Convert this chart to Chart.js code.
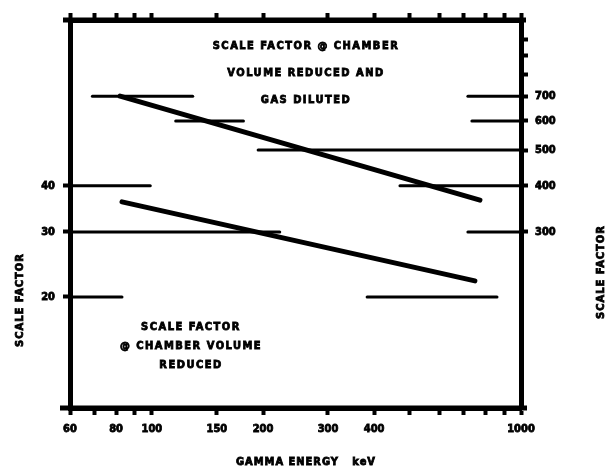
<!DOCTYPE html>
<html>
<head>
<meta charset="utf-8">
<script src="https://cdn.jsdelivr.net/npm/chart.js@4/dist/chart.umd.min.js"></script>
<style>
  html, body { margin: 0; padding: 0; background: #fff; }
  #wrap { width: 612px; height: 476px; }
</style>
</head>
<body>
<div id="wrap"><canvas id="chart" width="612" height="476"></canvas></div>
<script>
// gamma energy axis (keV)
const energyTicks = [60, 70, 80, 90, 100, 150, 200, 300, 400, 500, 600, 700, 800, 900, 1000];
const energyLabels = [60, 80, 100, 150, 200, 300, 400, 1000];
// left scale factor axis, right scale factor axis
const leftTicks = [20, 30, 40];
const rightTicks = [300, 400, 500, 600, 700, 800, 900, 1000];
const rightLabels = [300, 400, 500, 600, 700];

// chamber volume reduced and gas diluted (right axis)
const dilutedEnergy = [82, 774];
const dilutedFactor = [700, 366];
// chamber volume reduced (left axis)
const reducedEnergy = [83, 750];
const reducedFactor = [36.2, 22.1];

// horizontal reading lines, in right-axis units, with energy spans
const guideLevels = [700, 600, 500, 400, 300, 200];
const guideSpans = [
  [[69, 129], [718, 1000]],
  [[116, 177], [736, 1000]],
  [[194, 1000]],
  [[60, 99], [470, 1000]],
  [[60, 222], [718, 1000]],
  [[60, 83], [383, 861]]
];

const ink = "#000";
const datasets = [];

guideLevels.forEach((lvl, i) => {
  guideSpans[i].forEach(span => {
    datasets.push({
      data: span.map(e => ({ x: e, y: lvl })),
      yAxisID: "y2",
      borderWidth: 3
    });
  });
});
datasets.push({
  data: dilutedEnergy.map((e, i) => ({ x: e, y: dilutedFactor[i] })),
  yAxisID: "y2",
  borderWidth: 5
});
datasets.push({
  data: reducedEnergy.map((e, i) => ({ x: e, y: reducedFactor[i] })),
  yAxisID: "y",
  borderWidth: 5
});
datasets.forEach(d => {
  d.showLine = true;
  d.pointRadius = 0;
  d.borderColor = ink;
  d.borderCapStyle = "round";
});

const FONT = "'DejaVu Sans Condensed', 'DejaVu Sans', sans-serif";

function fixedTicks(list) {
  return scale => { scale.ticks = list.map(v => ({ value: v })); };
}

// heavy lettering, like the inked original
function inkText(ctx, t, x, y) {
  ctx.strokeText(t, x, y);
  ctx.fillText(t, x, y);
}

const textPlugin = {
  id: "texts",
  afterDraw(chart) {
    const ctx = chart.ctx;
    const a = chart.chartArea;
    ctx.save();
    // axis lines run a little past the frame corners
    ctx.strokeStyle = ink;
    ctx.lineWidth = 5;
    ctx.beginPath();
    ctx.moveTo(a.left - 10, a.bottom); ctx.lineTo(a.right + 6, a.bottom);
    ctx.moveTo(a.left - 7, a.top); ctx.lineTo(a.right + 5, a.top);
    ctx.stroke();

    ctx.fillStyle = ink;
    ctx.lineWidth = 0.8;
    ctx.font = "bold 11px " + FONT;
    ctx.letterSpacing = "1.5px";
    ctx.textAlign = "center";
    ctx.textBaseline = "middle";
    ["SCALE FACTOR @ CHAMBER", "VOLUME REDUCED AND", "GAS DILUTED"]
      .forEach((t, i) => inkText(ctx, t, 306, 46 + i * 27));
    ["SCALE FACTOR", "@ CHAMBER VOLUME", "REDUCED"]
      .forEach((t, i) => inkText(ctx, t, 191, 327 + i * 19));
    ctx.letterSpacing = "1px";
    inkText(ctx, "GAMMA ENERGY   keV", 306, 462);
    ctx.save();
    ctx.translate(20, 300);
    ctx.rotate(-Math.PI / 2);
    inkText(ctx, "SCALE FACTOR", 0, 0);
    ctx.restore();
    ctx.save();
    ctx.translate(601, 272);
    ctx.rotate(-Math.PI / 2);
    inkText(ctx, "SCALE FACTOR", 0, 0);
    ctx.restore();
    ctx.restore();
  }
};

const tickFont = { family: FONT, size: 11, weight: "bold" };
const tickInk = { color: ink, font: tickFont, textStrokeColor: ink, textStrokeWidth: 0.8 };
const grid = { drawOnChartArea: false, tickLength: 7, tickWidth: 4, tickColor: ink };
const border = { width: 5, color: ink };

new Chart(document.getElementById("chart"), {
  type: "scatter",
  data: { datasets },
  options: {
    responsive: false,
    animation: false,
    layout: { padding: 0 },
    plugins: { legend: { display: false }, tooltip: { enabled: false } },
    scales: {
      x: {
        type: "logarithmic", position: "bottom", min: 60, max: 1000,
        afterBuildTicks: fixedTicks(energyTicks),
        afterFit: s => { s.height = 68; },
        ticks: {
          ...tickInk, autoSkip: false, maxRotation: 0, padding: 8,
          callback: v => energyLabels.includes(v) ? String(v) : ""
        },
        grid, border
      },
      x2: {
        type: "logarithmic", position: "top", min: 60, max: 1000,
        afterBuildTicks: fixedTicks(energyTicks),
        afterFit: s => { s.height = 20; },
        ticks: { display: false },
        grid, border
      },
      y: {
        type: "logarithmic", position: "left", min: 10, max: 112.6,
        afterBuildTicks: fixedTicks(leftTicks),
        afterFit: s => { s.width = 70; },
        ticks: { ...tickInk, padding: 8, callback: v => String(v) },
        grid, border
      },
      y2: {
        type: "logarithmic", position: "right", min: 100, max: 1126,
        afterBuildTicks: fixedTicks(rightTicks),
        afterFit: s => { s.width = 91; },
        ticks: {
          ...tickInk, padding: 7,
          callback: v => rightLabels.includes(v) ? String(v) : ""
        },
        grid, border
      }
    }
  },
  plugins: [textPlugin]
});
</script>
</body>
</html>
